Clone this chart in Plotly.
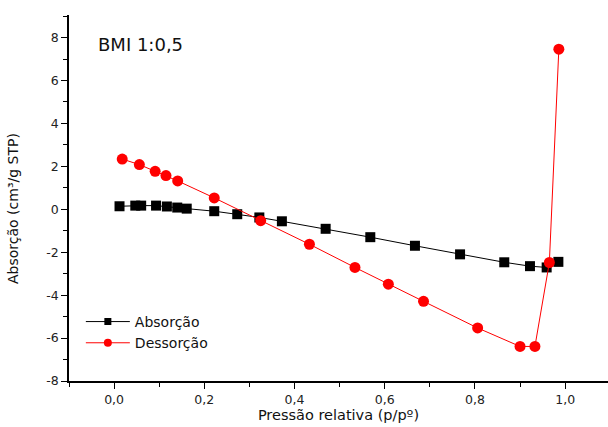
import plotly.graph_objects as go

# Adsorption branch (relative pressure, amount)
abs_x = [0.012, 0.047, 0.060, 0.093, 0.117, 0.140, 0.161, 0.222, 0.273, 0.322,
         0.372, 0.469, 0.568, 0.667, 0.767, 0.865, 0.922, 0.959, 0.985]
abs_y = [0.14, 0.17, 0.17, 0.17, 0.13, 0.08, 0.03, -0.09, -0.23, -0.38,
         -0.56, -0.91, -1.30, -1.70, -2.10, -2.47, -2.65, -2.71, -2.45]

# Desorption branch
des_x = [0.018, 0.056, 0.091, 0.115, 0.141, 0.222, 0.325, 0.433, 0.534, 0.608,
         0.686, 0.806, 0.900, 0.933, 0.965, 0.986]
des_y = [2.34, 2.08, 1.77, 1.57, 1.32, 0.53, -0.53, -1.63, -2.71, -3.49,
         -4.29, -5.53, -6.39, -6.39, -2.48, 7.46]

x_ticks = [0.0, 0.2, 0.4, 0.6, 0.8, 1.0]
x_tick_labels = ["0,0", "0,2", "0,4", "0,6", "0,8", "1,0"]
y_ticks = [-8, -6, -4, -2, 0, 2, 4, 6, 8]
y_tick_labels = ["-8", "-6", "-4", "-2", "0", "2", "4", "6", "8"]

FONT = "DejaVu Sans"

fig = go.Figure()
fig.add_trace(go.Scatter(
    x=abs_x, y=abs_y, mode="lines+markers", name="Absorção", showlegend=False,
    line=dict(color="black", width=1),
    marker=dict(symbol="square", size=10, color="black"),
))
fig.add_trace(go.Scatter(
    x=des_x, y=des_y, mode="lines+markers", name="Dessorção", showlegend=False,
    line=dict(color="red", width=1),
    marker=dict(symbol="circle", size=11, color="red"),
))
# legend entries with smaller symbols
fig.add_trace(go.Scatter(
    x=[None], y=[None], mode="lines+markers", name="Absorção",
    line=dict(color="black", width=1),
    marker=dict(symbol="square", size=7, color="black"),
))
fig.add_trace(go.Scatter(
    x=[None], y=[None], mode="lines+markers", name="Dessorção",
    line=dict(color="red", width=1),
    marker=dict(symbol="circle", size=8, color="red"),
))

axis_common = dict(
    showline=True, linecolor="black", linewidth=1.5, mirror=False,
    showgrid=False, zeroline=False, ticks="outside", ticklen=6,
    tickwidth=1.2, tickcolor="black",
    tickfont=dict(family=FONT, size=12.5, color="#222"),
)

fig.update_layout(
    width=608, height=427,
    margin=dict(l=69, r=0, t=15, b=46),
    paper_bgcolor="white", plot_bgcolor="white",
    showlegend=True,
    legend=dict(
        x=0.022, y=0.205, xanchor="left", yanchor="top",
        bgcolor="rgba(0,0,0,0)", font=dict(family=FONT, size=14, color="#111"),
        tracegroupgap=0, itemwidth=44,
    ),
    xaxis=dict(
        range=[-0.1, 1.095], tickvals=x_ticks, ticktext=x_tick_labels,
        minor=dict(dtick=0.1, tick0=0, ticks="outside", ticklen=4, tickcolor="black"),
        title=dict(text="Pressão relativa (p/pº)", font=dict(family=FONT, size=14.5, color="#111"), standoff=4),
        **axis_common,
    ),
    yaxis=dict(
        range=[-8, 9.05], tickvals=y_ticks, ticktext=y_tick_labels,
        minor=dict(dtick=1, tick0=0, ticks="outside", ticklen=4, tickcolor="black"),
        **axis_common,
    ),
    annotations=[
        dict(text="BMI 1:0,5", xref="paper", yref="paper", x=0.05, y=0.92,
             xanchor="left", yanchor="middle", showarrow=False,
             font=dict(family=FONT, size=18, color="#111")),
        dict(text="Absorção (cm³/g STP)", xref="paper", yref="paper",
             x=-(69 - 13) / 539, y=0.47, textangle=-90,
             xanchor="center", yanchor="middle", showarrow=False,
             font=dict(family=FONT, size=14, color="#111")),
    ],
)

fig.write_html("out.html")
